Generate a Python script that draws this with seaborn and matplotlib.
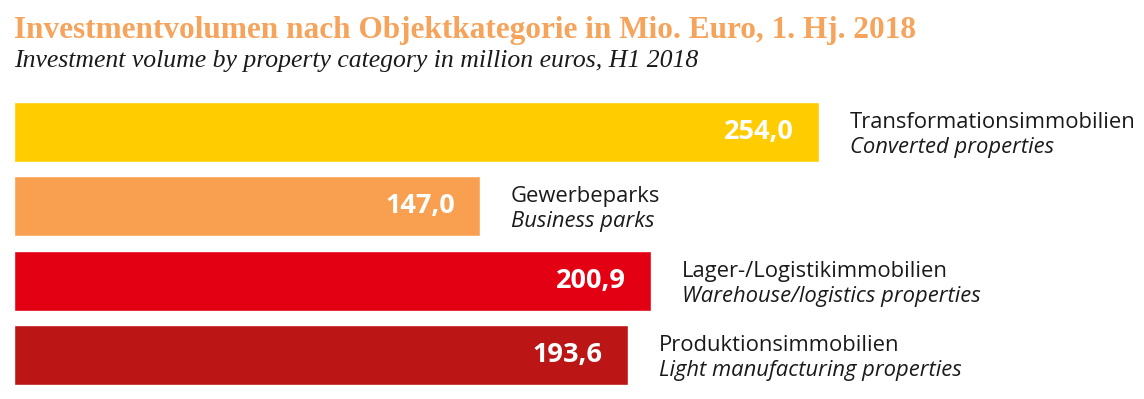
import matplotlib
matplotlib.use("Agg")
import matplotlib.pyplot as plt
import pandas as pd
import seaborn as sns

categories_de = [
    "Transformationsimmobilien",
    "Gewerbeparks",
    "Lager-/Logistikimmobilien",
    "Produktionsimmobilien",
]
categories_en = [
    "Converted properties",
    "Business parks",
    "Warehouse/logistics properties",
    "Light manufacturing properties",
]
volumes = [254.0, 147.0, 200.9, 193.6]
colors = ["#FFCC00", "#F8A04F", "#E30013", "#BB1615"]

df = pd.DataFrame({"category": categories_de, "volume": volumes})

sns.set_style("white")

fig = plt.figure(figsize=(11.44, 3.99), dpi=100)
W, H = 1144, 399
# axes placed in pixel terms: bars start at x=14, rows centred at 132..355
ax = fig.add_axes([14 / W, 1 - 392.5 / H, 1125 / W, (392.5 - 94.8) / H])

sns.barplot(
    data=df, x="volume", y="category", hue="category", palette=colors,
    orient="h", width=0.806, legend=False, ax=ax, saturation=1,
)
ax.set_xlim(0, 355)
ax.set_ylim(3.5, -0.5)
ax.axis("off")

for i, v in enumerate(volumes):
    label = f"{v:.1f}".replace(".", ",")
    ax.annotate(label, xy=(v, i), xytext=(-25, 0), textcoords="offset pixels",
                ha="right", va="center", color="white", fontsize=19.5,
                fontweight="bold", family="Open Sans")
    ax.annotate(categories_de[i], xy=(v, i), xytext=(31, 4),
                textcoords="offset pixels", ha="left", va="baseline",
                fontsize=15.8, family="Open Sans", color="#1a1a1a")
    ax.annotate(categories_en[i], xy=(v, i), xytext=(31, -21),
                textcoords="offset pixels", ha="left", va="baseline",
                fontsize=15.8, family="Open Sans", style="italic",
                color="#1a1a1a")

fig.text(14 / W, 1 - 38 / H,
         "Investmentvolumen nach Objektkategorie in Mio. Euro, 1. Hj. 2018",
         ha="left", va="baseline", fontsize=22.5, fontweight="bold",
         family="Liberation Serif", color="#F6A35B")
fig.text(14 / W, 1 - 67 / H,
         "Investment volume by property category in million euros, H1 2018",
         ha="left", va="baseline", fontsize=18.5, style="italic",
         family="Liberation Serif", color="#1a1a1a")

fig.savefig("out.png", dpi=100, facecolor="white")
